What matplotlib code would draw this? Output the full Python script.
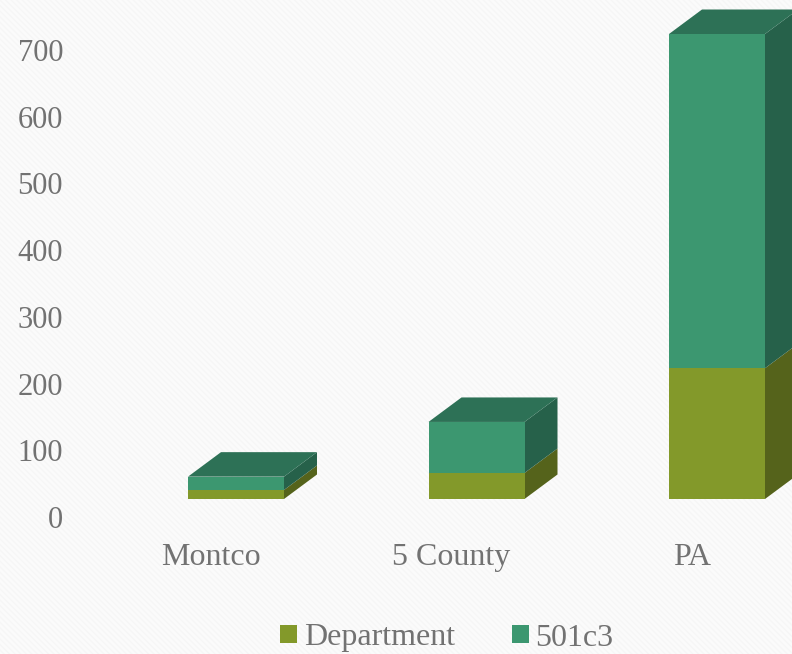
import matplotlib
matplotlib.use("Agg")
import matplotlib.pyplot as plt
from matplotlib.patches import Patch

# ---- data ----
categories = ["Montco", "5 County", "PA"]
department = [13.5, 39, 196]
org_501c3 = [20, 76.5, 501]
y_ticks = [0, 100, 200, 300, 400, 500, 600, 700]
series_names = ["Department", "501c3"]

# ---- styling ----
W, H = 792, 654
FRONT = ["#83992A", "#3C9770"]
SIDE = ["#55631B", "#26614A"]
TOP = "#2D7156"
TEXT = "#727272"
PX_X = 240.5          # pixels per category step
PX_Y = 467 / 700      # pixels per y unit
BAR_W = 96 / PX_X
BAR_SHIFT = 25 / PX_X  # bars sit right of the label because of the 3-D projection
DX = 33 / PX_X         # depth of the box
DY = 24.5 / PX_Y
FLOOR = 18 / PX_Y      # front face starts above the axis zero

plt.rcParams["font.family"] = ["Liberation Serif", "DejaVu Serif"]

fig = plt.figure(figsize=(W / 100, H / 100), dpi=100, facecolor="#FBFBFB")
fig.patch.set_hatch("\\\\\\\\\\\\")
fig.patch.set_edgecolor("#F6F6F6")
fig.patch.set_linewidth(0)
ax = fig.add_axes([70 / W, (H - 517) / H, (W - 70) / W, 517 / H])
ax.patch.set_visible(False)
ax.set_xlim((70 - 211) / PX_X, (W - 211) / PX_X)
ax.set_ylim(0, 517 / PX_Y)

for i in range(len(categories)):
    x0 = i + BAR_SHIFT - BAR_W / 2
    x1 = x0 + BAR_W
    bottom = FLOOR
    for vals, front, side in zip((department, org_501c3), FRONT, SIDE):
        v = vals[i]
        ax.bar(x0, v, BAR_W, bottom=bottom, align="edge", color=front,
               linewidth=0, zorder=3)
        ax.fill([x1, x1 + DX, x1 + DX, x1],
                [bottom, bottom + DY, bottom + v + DY, bottom + v],
                color=side, lw=0, zorder=2, clip_on=False)
        bottom += v
    ax.fill([x0, x1, x1 + DX, x0 + DX],
            [bottom, bottom, bottom + DY, bottom + DY],
            color=TOP, lw=0, zorder=2, clip_on=False)

for s in ax.spines.values():
    s.set_visible(False)
ax.set_yticks(y_ticks)
ax.set_xticks(range(len(categories)))
ax.set_xticklabels(categories)
ax.tick_params(axis="y", length=0, pad=5, labelsize=22, labelcolor=TEXT)
ax.tick_params(axis="x", length=0, pad=18.5, labelsize=23, labelcolor=TEXT)

handles = [Patch(color=c, lw=0) for c in FRONT]
fig.legend(handles, series_names, ncols=2, frameon=False, fontsize=23,
           labelcolor=TEXT, handlelength=0.53, handleheight=0.5,
           handletextpad=0.22, columnspacing=1.76, borderpad=0, borderaxespad=0,
           loc="center", bbox_to_anchor=(447 / W, (H - 638) / H))

fig.savefig("out.png", dpi=100, facecolor=fig.get_facecolor())
